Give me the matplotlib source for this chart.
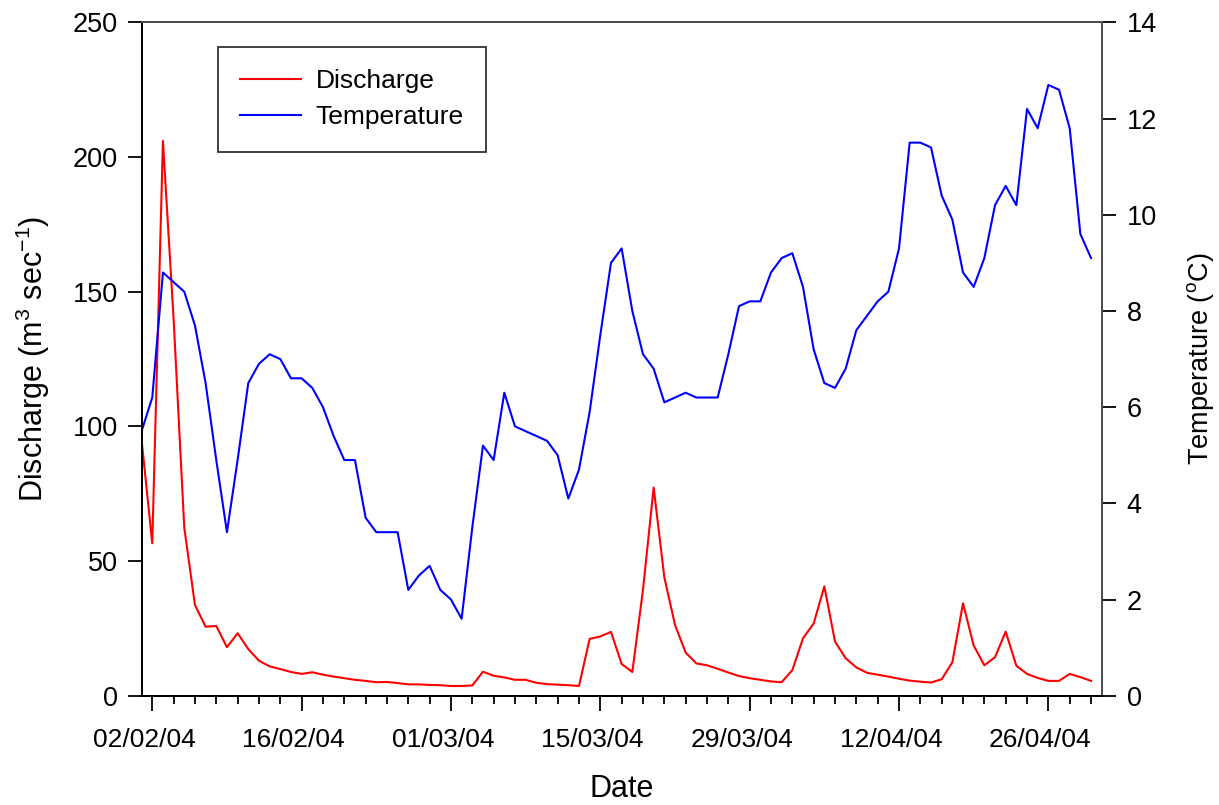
import matplotlib
matplotlib.use("Agg")
import matplotlib.pyplot as plt
import matplotlib.dates as mdates
import matplotlib.transforms as mtransforms
import numpy as np
import pandas as pd

plt.rcParams["font.family"] = ["Liberation Sans", "DejaVu Sans"]
plt.rcParams["mathtext.fontset"] = "custom"
plt.rcParams["mathtext.rm"] = "Liberation Sans"
plt.rcParams["mathtext.it"] = "Liberation Sans"
plt.rcParams["mathtext.default"] = "regular"

# daily record, 1 Feb - 30 Apr 2004
dates = pd.date_range("2004-02-01", "2004-04-30", freq="D")

discharge = [
    94.9, 56.6, 206.0, 139.9, 62.4, 33.7, 25.6, 25.9, 18.0, 23.2,
    17.3, 13.0, 10.9, 9.9, 8.8, 8.1, 8.7, 7.8, 7.1, 6.5,
    5.9, 5.5, 5.0, 5.1, 4.7, 4.2, 4.2, 4.0, 3.9, 3.6,
    3.6, 3.8, 8.9, 7.4, 6.8, 5.9, 5.9, 4.8, 4.3, 4.1,
    3.9, 3.6, 21.1, 22.0, 23.7, 11.8, 8.8, 39.3, 77.3, 44.0,
    26.3, 16.0, 12.0, 11.3, 10.0, 8.6, 7.3, 6.5, 5.9, 5.3,
    5.0, 9.5, 21.3, 26.8, 40.6, 20.1, 13.9, 10.5, 8.5, 7.8,
    7.1, 6.3, 5.6, 5.2, 4.9, 6.1, 12.4, 34.3, 18.6, 11.3,
    14.3, 23.8, 11.1, 8.1, 6.6, 5.5, 5.5, 8.1, 6.9, 5.5,
]

temperature = [
    5.5, 6.2, 8.8, 8.6, 8.4, 7.7, 6.5, 4.9, 3.4, 4.9,
    6.5, 6.9, 7.1, 7.0, 6.6, 6.6, 6.4, 6.0, 5.4, 4.9,
    4.9, 3.7, 3.4, 3.4, 3.4, 2.2, 2.5, 2.7, 2.2, 2.0,
    1.6, 3.5, 5.2, 4.9, 6.3, 5.6, 5.5, 5.4, 5.3, 5.0,
    4.1, 4.7, 5.9, 7.5, 9.0, 9.3, 8.0, 7.1, 6.8, 6.1,
    6.2, 6.3, 6.2, 6.2, 6.2, 7.1, 8.1, 8.2, 8.2, 8.8,
    9.1, 9.2, 8.5, 7.2, 6.5, 6.4, 6.8, 7.6, 7.9, 8.2,
    8.4, 9.3, 11.5, 11.5, 11.4, 10.4, 9.9, 8.8, 8.5, 9.1,
    10.2, 10.6, 10.2, 12.2, 11.8, 12.7, 12.6, 11.8, 9.6, 9.1,
]

W, H = 1219, 805
fig = plt.figure(figsize=(W / 100, H / 100), dpi=100)
ax = fig.add_axes([141.6 / W, 1 - 695.7 / H, (1101.7 - 141.6) / W, (695.7 - 22.4) / H])
ax2 = ax.twinx()

l1, = ax.plot(dates, discharge, color="#ff0000", lw=1.5, label="Discharge")
l2, = ax2.plot(dates, temperature, color="#0000ff", lw=1.5, label="Temperature")

ax.set_xlim(pd.Timestamp("2004-02-01"), pd.Timestamp("2004-05-01"))
ax.set_ylim(0, 250)
ax2.set_ylim(0, 14)

major = pd.date_range("2004-02-02", "2004-04-30", freq="14D")
minor = pd.date_range("2004-02-02", "2004-04-30", freq="2D")
ax.set_xticks(mdates.date2num(major))
ax.set_xticks(mdates.date2num(minor), minor=True)
ax.xaxis.set_major_formatter(mdates.DateFormatter("%d/%m/%y"))
ax.set_yticks(np.arange(0, 251, 50))
ax2.set_yticks(np.arange(0, 15, 2))

ax.tick_params(axis="x", which="major", length=11, width=1.3, labelsize=19, pad=12)
ax.tick_params(axis="x", which="minor", length=6, width=1.3)
ax.tick_params(axis="y", length=10, width=1.3, labelsize=19.5, pad=7)
ax2.tick_params(axis="y", length=10, width=1.3, labelsize=19.5, pad=8)

# shift date labels slightly left of their ticks
shift = mtransforms.ScaledTranslation(-8 / 100, 0, fig.dpi_scale_trans)
for lab in ax.get_xticklabels():
    lab.set_transform(lab.get_transform() + shift)

for sp in ax.spines.values():
    sp.set_linewidth(1.3)
for sp in ax2.spines.values():
    sp.set_linewidth(1.3)
ax2.spines["right"].set_color("#555555")
ax2.spines["top"].set_color("#555555")

ax.set_xlabel("Date", fontsize=22, labelpad=16)
ax.set_ylabel("Discharge (m$^{3}$ sec$^{-1}$)", fontsize=22, labelpad=15)
ax2.set_ylabel("Temperature ($^{o}$C)", fontsize=19.5, labelpad=20)

leg = ax.legend(
    [l1, l2], ["Discharge", "Temperature"],
    loc="upper left", bbox_to_anchor=((218 - 141.6) / 960.1, (695.7 - 47) / 673.3),
    fontsize=19, frameon=True, fancybox=False, handlelength=2.3,
    handletextpad=0.55, borderaxespad=0, borderpad=0.85, labelspacing=0.45,
)
leg.get_frame().set_edgecolor("black")
leg.get_frame().set_linewidth(1.3)

fig.savefig("out.png", dpi=100)
